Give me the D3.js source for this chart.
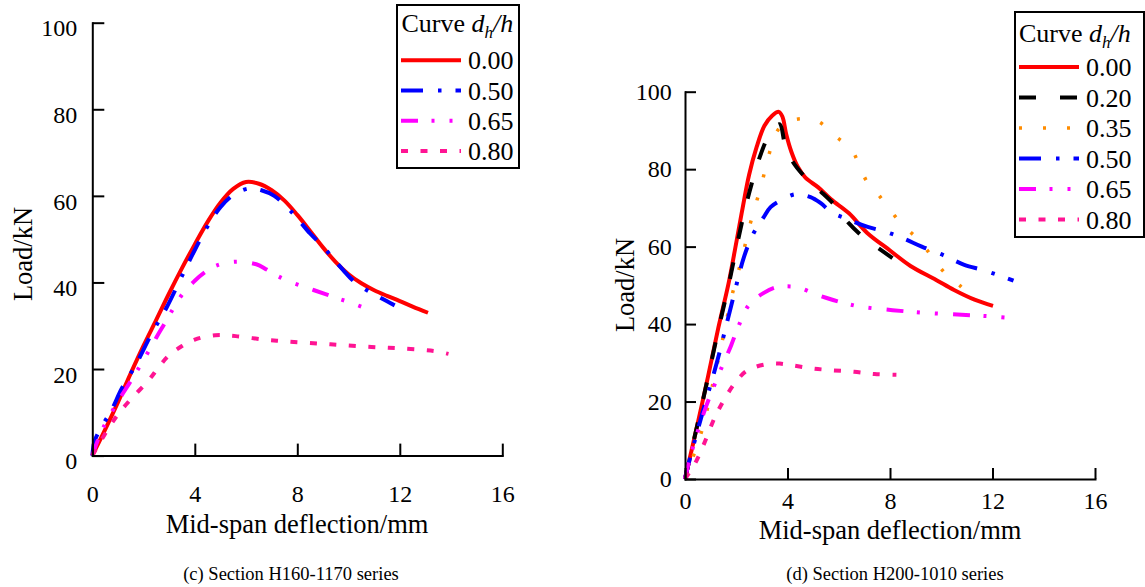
<!DOCTYPE html>
<html>
<head>
<meta charset="utf-8">
<script src="https://cdn.jsdelivr.net/npm/d3@7/dist/d3.min.js"></script>
<style>
  html, body { margin: 0; padding: 0; background: #fff; }
  svg { display: block; font-family: "Liberation Serif", "Times New Roman", serif; }
</style>
</head>
<body>
<svg id="chart" width="1145" height="587"></svg>
<script>
// ---- Data: mid-span deflection (mm) vs load (kN) ----
const deflectionTicks = [0, 4, 8, 12, 16];
const loadTicks = [0, 20, 40, 60, 80, 100];

// (c) Section H160-1170 series
const ratiosC = ["0.00", "0.50", "0.65", "0.80"];
const c000 = [[0,0],[0.5,6],[1,12.3],[1.5,19],[2,25.4],[2.5,31.4],[3,37.5],[3.5,43.3],[4,48.8],[4.5,54],[5,58.4],[5.5,61.6],[6,63.2],[6.5,62.8],[7,61.3],[7.5,58.9],[8,55.6],[8.5,51.9],[9,48.1],[9.5,44.7],[10,41.9],[10.5,39.8],[11,38.2],[11.5,36.9],[12,35.7],[12.5,34.4],[13.1,33]];
const c050 = [[0,0],[0.1,3.5],[0.4,7],[0.75,10.5],[1.15,15.5],[1.7,21],[2.3,28],[2.9,34.2],[3.5,41.5],[4,47.5],[4.5,53],[5,57.4],[5.5,60.2],[6.1,61.7],[6.6,61.3],[7.1,60],[7.6,57.4],[8,54.8],[8.5,51.3],[9,48.3],[9.4,45.5],[9.8,42.8],[10.2,40.3],[10.6,38.6],[11.2,36.6],[11.8,34.7]];
const c065 = [[0,0],[0.35,5.5],[1,12.5],[1.5,17.2],[2.07,22.8],[2.5,27.3],[2.86,30.9],[3.2,34.4],[3.52,37.3],[4,40.4],[4.4,42.4],[4.84,43.9],[5.6,44.8],[6.4,44.2],[6.8,43],[7.2,41.6],[7.7,40.2],[8.26,39],[8.66,38.2],[9.1,37.3],[9.58,36.3],[10,35.5],[10.37,34.7],[10.7,33.9],[10.97,33]];
const c080 = [[0,0],[0.6,6],[1,9.5],[1.5,13],[2.2,17.4],[2.6,20.5],[3,23.2],[3.5,25.3],[4,26.8],[4.8,27.8],[5.6,27.6],[6.7,26.8],[7.7,26.3],[8.8,25.9],[9.8,25.5],[10.9,25.1],[11.9,24.8],[12.9,24.4],[13.4,24.1],[13.9,23.5]];

// (d) Section H200-1010 series
const ratiosD = ["0.00", "0.20", "0.35", "0.50", "0.65", "0.80"];
const d000 = [[0,0],[0.5,14.5],[0.9,26.5],[1.3,39],[1.7,50.5],[2,61],[2.25,70],[2.5,78.5],[2.8,85.8],[3.1,91.2],[3.4,93.8],[3.66,94.8],[3.8,93.6],[3.95,89],[4.15,84.5],[4.4,80.6],[4.7,77.8],[5.2,75.3],[5.7,72.2],[6.4,68.6],[7.1,63.6],[8,59],[8.8,55],[9.8,51.4],[10.5,48.8],[11.3,46.3],[12.02,44.7]];
const d020 = [[0,0],[0.5,14.5],[0.9,26.3],[1.3,38.5],[1.7,50],[2,59.5],[2.3,68.5],[2.6,76.2],[2.9,82.8],[3.2,87.8],[3.5,90.8],[3.7,91.6],[3.9,86.5],[4.2,82],[4.6,78.6],[5.2,74.8],[5.8,71],[6.4,66],[7,62.2],[7.5,59.8],[8,57.5],[8.7,54.2]];
const d035 = [[0,0],[0.25,4.5],[0.68,13],[1.1,25],[1.45,35.5],[1.8,46.5],[2.2,56.5],[2.55,66],[2.8,71.8],[3,76.5],[3.3,84.3],[3.55,89.3],[3.9,91.8],[4.5,93],[5.2,92.3],[5.85,88.6],[6.5,85],[6.8,81],[7.1,76.8],[7.5,73.8],[7.95,69.9],[8.5,65.5],[9,62.5],[9.4,59.5],[9.8,55.8],[10.25,52.5],[10.75,49.8],[11.1,47.6]];
const d050 = [[0,0],[0.11,3.2],[0.68,17],[1.24,30],[1.66,41],[1.87,46.5],[2.08,52],[2.3,57.3],[2.64,63],[3.06,67.5],[3.34,70.2],[3.76,72],[4.3,73.5],[4.9,72.8],[5.3,71.2],[5.73,68.8],[6.3,67.2],[7.13,65.1],[7.84,63.8],[8.53,62.1],[9.24,60],[10.08,57.8],[10.9,55.3],[11.6,54],[12.2,52.7],[12.82,51.2]];
const d065 = [[0,0],[0.11,3.2],[0.39,10],[0.82,18.7],[1.38,28],[1.8,34.5],[2.08,39.3],[2.5,45],[3.06,48],[3.55,49.5],[4.2,49.7],[4.5,49.3],[5.03,47.9],[5.5,46.8],[6,45.8],[6.85,44.5],[8.1,43.6],[9.4,42.9],[10.8,42.4],[11.9,42],[12.7,41.6]];
const d080 = [[0,0],[0.39,4],[0.75,9.2],[1.17,16],[1.52,20.4],[1.94,24.7],[2.36,27.7],[2.78,29],[3.34,29.8],[3.7,29.8],[4.04,29.5],[4.9,28.6],[5.7,28.1],[6.6,27.7],[7.4,27.1],[8.25,26.9]];

// ---- Line styles per d_h/h ratio ----
const styleOf = {
  "0.00": { color: "#ff0000", dash: null,            width: 4 },
  "0.20": { color: "#000000", dash: "17,24",         width: 4 },
  "0.35": { color: "#ff8c00", dash: "3,21",          width: 3.5 },
  "0.50": { color: "#0000ff", dash: "22,15,3.5,14",  width: 4 },
  "0.65": { color: "#ff00ff", dash: "17,13.5,3,15,3,15", width: 4 },
  "0.80": { color: "#ff1493", dash: "7,12.5",        width: 4 }
};

const svg = d3.select("#chart");

function drawPanel(p) {
  const x = d3.scaleLinear().domain([0, 16]).range([p.x0, p.x1]);
  const y = d3.scaleLinear().domain([0, 100]).range([p.y0, p.y1]);
  const g = svg.append("g");

  // curves
  const line = d3.line()
    .x(d => x(d[0])).y(d => y(d[1]))
    .curve(d3.curveCatmullRom.alpha(0.5));
  p.series.forEach(s => {
    const st = styleOf[s.label];
    g.append("path")
      .datum(s.data)
      .attr("fill", "none")
      .attr("stroke", st.color)
      .attr("stroke-width", st.width)
      .attr("stroke-dasharray", st.dash)
      .attr("stroke-linejoin", "round")
      .attr("d", line);
  });

  // y axis (ticks point inward)
  const yAxis = g.append("g")
    .attr("transform", `translate(${p.x0},0)`)
    .call(d3.axisLeft(y).tickValues(loadTicks).tickFormat(d3.format("d"))
      .tickSizeInner(-p.tick).tickSizeOuter(0).tickPadding(p.yPad));
  yAxis.selectAll("text").attr("y", p.yLabelShift);

  // x axis (ticks point inward)
  const xAxis = g.append("g")
    .attr("transform", `translate(0,${p.y0})`)
    .call(d3.axisBottom(x).tickValues(deflectionTicks).tickFormat(d3.format("d"))
      .tickSizeInner(-p.tick).tickSizeOuter(0).tickPadding(p.xPad));

  [yAxis, xAxis].forEach(a => {
    a.selectAll("path.domain").attr("stroke", "#000").attr("stroke-width", 2).attr("stroke-linecap", "square");
    a.selectAll(".tick line").attr("stroke", "#000").attr("stroke-width", 2);
    a.selectAll("text").attr("fill", "#000").style("font-size", "24px")
      .style("font-family", "'Liberation Serif', 'Times New Roman', serif");
  });

  // axis titles
  g.append("text")
    .attr("x", p.xTitle[0]).attr("y", p.xTitle[1])
    .attr("text-anchor", "middle")
    .style("font-size", "26.5px")
    .text("Mid-span deflection/mm");
  g.append("text")
    .attr("transform", `translate(${p.yTitle[0]},${p.yTitle[1]}) rotate(-90)`)
    .attr("text-anchor", "middle")
    .style("font-size", "26.5px")
    .text("Load/kN");

  // caption
  g.append("text")
    .attr("x", p.caption[0]).attr("y", p.caption[1])
    .attr("text-anchor", "middle")
    .style("font-size", "18.5px")
    .text(p.captionText);

  // legend
  const L = p.legend;
  const lg = g.append("g");
  lg.append("rect")
    .attr("x", L.x).attr("y", L.y).attr("width", L.w).attr("height", L.h)
    .attr("fill", "#fff").attr("stroke", "#000").attr("stroke-width", 2);
  const title = lg.append("text")
    .attr("x", L.textX).attr("y", L.titleY)
    .style("font-size", "26px");
  title.append("tspan").text("Curve ");
  title.append("tspan").style("font-style", "italic").text("d");
  title.append("tspan").style("font-style", "italic").style("font-size", "17px").attr("dy", 6).text("h");
  title.append("tspan").style("font-style", "italic").attr("dy", -6).text("/h");

  p.series.forEach((s, i) => {
    const st = styleOf[s.label];
    const ry = L.row0 + i * L.rowStep;
    lg.append("line")
      .attr("x1", L.lineX0).attr("x2", L.lineX1)
      .attr("y1", ry).attr("y2", ry)
      .attr("stroke", st.color)
      .attr("stroke-width", st.width)
      .attr("stroke-dasharray", st.dash);
    lg.append("text")
      .attr("x", L.labelX).attr("y", ry + 9)
      .style("font-size", "26px")
      .text(s.label);
  });
}

const seriesC = [c000, c050, c065, c080].map((data, i) => ({ label: ratiosC[i], data }));
const seriesD = [d000, d020, d035, d050, d065, d080].map((data, i) => ({ label: ratiosD[i], data }));

drawPanel({
  x0: 92.3, x1: 502.3, y0: 455.6, y1: 22.7, tick: 12,
  yPad: 15, yLabelShift: 5.6, xPad: 29,
  xTitle: [297, 533], yTitle: [32, 254],
  caption: [291, 580], captionText: "(c) Section H160-1170 series",
  series: seriesC,
  legend: { x: 397, y: 5, w: 122, h: 163, textX: 401.5, titleY: 32,
            row0: 60.3, rowStep: 30.2, lineX0: 401, lineX1: 461, labelX: 468 }
});

drawPanel({
  x0: 685, x1: 1095, y0: 479, y1: 91.7, tick: 11,
  yPad: 13.3, yLabelShift: 0, xPad: 13,
  xTitle: [890, 539], yTitle: [634, 285],
  caption: [895, 580], captionText: "(d) Section H200-1010 series",
  series: seriesD,
  legend: { x: 1015, y: 12, w: 129, h: 225, textX: 1019, titleY: 42,
            row0: 67, rowStep: 30.5, lineX0: 1019, lineX1: 1079, labelX: 1086 }
});
</script>
</body>
</html>
